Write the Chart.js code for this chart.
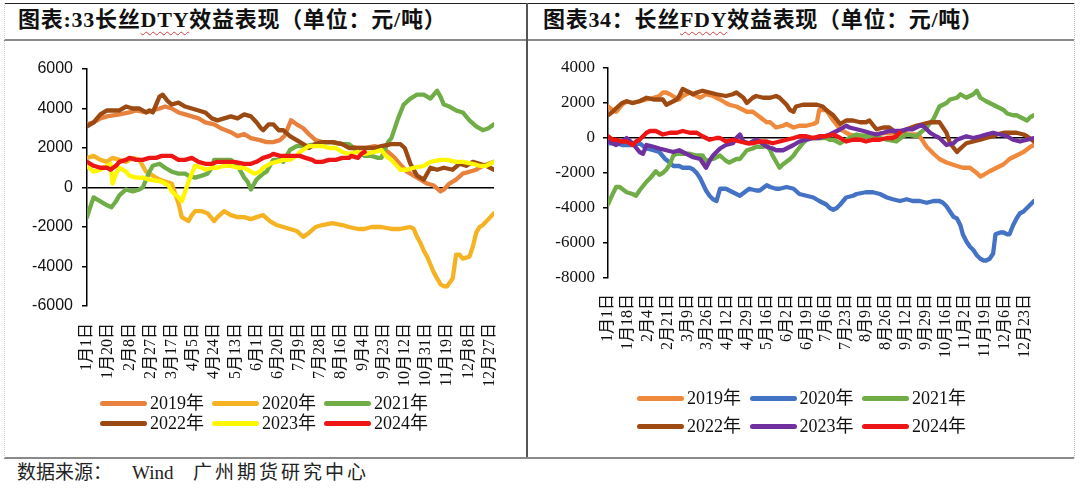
<!DOCTYPE html>
<html><head><meta charset="utf-8">
<script src="https://cdn.jsdelivr.net/npm/chart.js@4.4.1/dist/chart.umd.min.js"></script>
<style>
html,body{margin:0;padding:0;background:#fff;}
body{width:1080px;height:493px;position:relative;overflow:hidden;font-family:"Liberation Serif","Noto Sans CJK SC",serif;color:#111;}
.ln{position:absolute;}
.title{position:absolute;top:7px;font-size:22px;font-weight:bold;white-space:nowrap;line-height:26px;letter-spacing:0.75px;}
.wavy{text-decoration:underline wavy #d04040;text-decoration-thickness:1px;text-underline-offset:4px;}
.src{position:absolute;top:462px;font-size:19px;white-space:nowrap;line-height:22px;color:#222;}
canvas{position:absolute;}
.leg{position:absolute;font-size:18px;white-space:nowrap;line-height:20px;}
.leg .it{position:absolute;display:flex;align-items:center;}
.leg .sw{display:inline-block;width:47px;height:5px;border-radius:3px;margin-right:3px;}
</style>
</head><body>
<div class="ln" style="left:4px;top:3px;width:1070px;height:1px;background:#222"></div>
<div class="ln" style="left:4px;top:39px;width:1070px;height:2px;background:#8a8a8a"></div>
<div class="ln" style="left:526px;top:3px;width:2px;height:456px;background:#555"></div>
<div class="ln" style="left:4px;top:457px;width:1070px;height:2px;background:#8a8a8a"></div>
<div class="ln" style="left:4px;top:3px;width:0;height:455px;border-left:1px dotted #ccc"></div>
<div class="ln" style="left:1074px;top:3px;width:0;height:455px;border-left:1px dotted #bbb"></div>

<div class="title" style="left:18px">图表:33长丝<span class="wavy">DTY</span>效益表现（单位：元/吨）</div>
<div class="title" style="left:543px;letter-spacing:0.7px">图表34：长丝<span class="wavy">FDY</span>效益表现（单位：元/吨）</div>

<canvas id="c1" width="522" height="400" style="left:4px;top:41px;width:522px;height:400px"></canvas>
<canvas id="c2" width="545" height="400" style="left:529px;top:41px;width:545px;height:400px"></canvas>
<div class="leg" id="leg1"></div>
<div class="leg" id="leg2"></div>
<div class="src" style="left:17px">数据来源：</div>
<div class="src" style="left:132px">Wind</div>
<div class="src" style="left:193px;letter-spacing:3px">广州期货研究中心</div>

<script>
// ---------- categories / tick labels ----------
const seriesNames = ['2019年','2020年','2021年','2022年','2023年','2024年'];
const dtyTickLabels = ['1月1日','1月20日','2月8日','2月27日','3月17日','4月5日','4月24日','5月13日','6月1日','6月20日','7月9日','7月28日','8月16日','9月4日','9月23日','10月12日','10月31日','11月19日','12月8日','12月27日'];
const fdyTickLabels = ['1月1日','1月18日','2月4日','2月21日','3月9日','3月26日','4月12日','4月29日','5月16日','6月2日','6月19日','7月6日','7月23日','8月9日','8月26日','9月12日','9月29日','10月16日','11月2日','11月19日','12月6日','12月23日'];
const dtyYTicks = [-6000,-4000,-2000,0,2000,4000,6000];
const fdyYTicks = [-8000,-6000,-4000,-2000,0,2000,4000];

// ---------- DTY series: [day of year, 元/吨] ----------
const dty2019 = [[0,3200],[6,3300],[12,3500],[18,3600],[29,3700],[38,3800],[44,3900],[53,3800],[59,3900],[65,4000],[70,4100],[76,4000],[82,3800],[88,3700],[94,3600],[100,3500],[106,3300],[114,3200],[120,3000],[129,2800],[135,2600],[141,2700],[147,2500],[155,2400],[161,2300],[167,2300],[173,2400],[177,2600],[180,3000],[183,3400],[188,3200],[194,3000],[199,2700],[205,2400],[211,2300],[220,2300],[229,2200],[235,2100],[243,2000],[249,2000],[258,2100],[264,2000],[270,1800],[276,1500],[282,1100],[287,800],[293,600],[299,400],[305,200],[311,100],[317,-200],[320,-100],[325,200],[331,400],[337,700],[343,800],[349,900],[355,1100],[360,1200],[365,1300]];
const dty2020 = [[0,1500],[6,1600],[12,1400],[18,1300],[23,1500],[29,1400],[35,1300],[41,1500],[47,1400],[53,800],[59,600],[65,400],[70,300],[76,200],[79,-300],[82,-800],[85,-1500],[91,-1700],[94,-1400],[97,-1200],[103,-1200],[108,-1300],[114,-1700],[117,-1500],[123,-1200],[129,-1400],[135,-1500],[141,-1500],[147,-1600],[152,-1500],[158,-1400],[164,-1700],[170,-1900],[176,-2000],[182,-2100],[188,-2200],[194,-2500],[199,-2300],[205,-2000],[211,-1900],[220,-1800],[229,-1900],[235,-2000],[243,-2100],[249,-2100],[255,-2000],[264,-2000],[273,-2100],[281,-2100],[290,-2000],[293,-2100],[296,-2500],[299,-2800],[302,-3200],[305,-3500],[308,-3900],[311,-4300],[314,-4600],[317,-4900],[320,-5000],[323,-5000],[328,-4600],[331,-3400],[334,-3400],[337,-3600],[343,-3500],[346,-3000],[349,-2300],[352,-2000],[355,-1900],[360,-1600],[365,-1300]];
const dty2021 = [[0,-1500],[4,-800],[6,-500],[9,-600],[12,-700],[18,-900],[22,-1000],[26,-700],[29,-400],[35,-100],[41,-200],[47,-100],[50,0],[53,400],[56,800],[59,1100],[65,1200],[70,1000],[76,800],[82,700],[88,700],[91,600],[97,500],[103,600],[108,700],[112,1000],[114,1400],[120,1400],[129,1400],[135,1100],[141,500],[144,300],[147,-100],[152,400],[158,700],[161,800],[167,1400],[173,1400],[176,1300],[182,1900],[188,2100],[196,2100],[205,2200],[214,2300],[220,2300],[229,2200],[235,2200],[243,1800],[249,1600],[255,1600],[261,1500],[264,1500],[270,2300],[273,2500],[279,3500],[284,4200],[290,4500],[296,4700],[302,4700],[308,4500],[314,4900],[317,4600],[320,4200],[325,4100],[331,3900],[337,3800],[343,3400],[349,3100],[355,2900],[360,3000],[365,3200]];
const dty2022 = [[0,3100],[6,3300],[12,3700],[18,3900],[24,3900],[29,3900],[35,4100],[41,4000],[47,4000],[53,3800],[56,3900],[59,3800],[62,4200],[65,4600],[68,4700],[72,4400],[76,4200],[82,4300],[88,4100],[94,4000],[100,3900],[106,3800],[112,3500],[117,3400],[123,3500],[129,3600],[135,3500],[141,3700],[147,3600],[152,3300],[156,3000],[158,2900],[163,3200],[167,3200],[172,2900],[176,2900],[182,2600],[188,2400],[194,2200],[199,2000],[205,2200],[211,2300],[220,2300],[229,2200],[235,2000],[243,2000],[249,2000],[258,2000],[264,2100],[273,2200],[281,2200],[285,2000],[290,1200],[296,600],[299,500],[302,400],[308,1000],[314,900],[320,1000],[328,900],[334,1200],[340,1100],[346,1300],[352,1200],[358,1100],[365,900]];
const dty2023 = [[0,1100],[6,800],[12,900],[15,1000],[21,1200],[23,200],[26,700],[29,1000],[35,800],[38,600],[44,500],[50,500],[56,400],[62,350],[67,300],[73,100],[76,-200],[82,-500],[85,-700],[88,-200],[91,300],[97,1100],[103,1000],[106,900],[112,1000],[117,1000],[123,1100],[129,1100],[135,1000],[141,1000],[147,800],[150,700],[155,800],[158,1000],[164,1200],[170,1300],[176,1400],[182,1400],[188,1600],[191,1800],[199,2100],[205,2100],[211,2100],[217,2000],[223,2000],[229,1800],[235,1700],[243,1800],[249,1700],[258,1800],[264,1900],[268,1600],[273,1400],[281,900],[287,900],[293,1000],[302,1100],[308,1300],[317,1400],[323,1400],[331,1300],[337,1300],[346,1200],[352,1100],[358,1100],[365,1300]];
const dty2024 = [[0,1300],[6,1100],[12,1000],[18,1000],[21,900],[26,1100],[29,1300],[35,1400],[38,1500],[44,1400],[50,1400],[56,1500],[62,1500],[67,1600],[73,1600],[76,1600],[82,1400],[88,1400],[94,1500],[100,1300],[106,1200],[112,1200],[117,1300],[123,1300],[132,1300],[141,1200],[147,1200],[152,1300],[158,1500],[164,1600],[167,1700],[173,1600],[179,1600],[185,1600],[191,1600],[196,1500],[202,1400],[205,1300],[211,1300],[217,1400],[223,1400],[229,1500],[235,1500],[237,1600],[243,1500],[246,1700],[249,1800]];

// ---------- FDY series: [day of year, 元/吨] ----------
const fdy2019 = [[0,1800],[4,1600],[7,1500],[12,1900],[16,2100],[21,2000],[27,2100],[33,2200],[39,2300],[44,2400],[47,2600],[50,2600],[53,2500],[58,2300],[61,2200],[64,2400],[70,2600],[76,2400],[79,2300],[84,2500],[90,2400],[96,2200],[101,2000],[104,1900],[110,1800],[113,1700],[119,1500],[124,1500],[130,1200],[136,900],[139,900],[144,600],[150,700],[153,800],[159,600],[164,700],[170,700],[176,800],[179,900],[181,1600],[187,1600],[190,1300],[193,1000],[199,500],[204,300],[207,200],[216,100],[227,200],[239,300],[250,200],[256,200],[264,200],[267,100],[273,-500],[279,-900],[284,-1200],[290,-1400],[299,-1600],[304,-1700],[310,-1700],[316,-2000],[319,-2200],[322,-2100],[327,-1900],[333,-1700],[339,-1500],[344,-1200],[350,-1000],[356,-800],[362,-500],[365,-400]];
const fdy2020 = [[0,-300],[4,-300],[7,-300],[12,-400],[16,-400],[21,-400],[27,-300],[33,-600],[39,-700],[44,-800],[49,-1200],[53,-1400],[56,-1600],[61,-1600],[64,-1700],[70,-1700],[73,-1800],[76,-2000],[79,-2300],[84,-3000],[87,-3300],[90,-3500],[93,-3600],[96,-2900],[101,-2900],[104,-3000],[110,-3200],[113,-3300],[119,-3000],[121,-2900],[127,-3000],[130,-3000],[136,-2700],[139,-2800],[144,-2900],[147,-2900],[153,-2800],[159,-2900],[164,-3200],[170,-3300],[176,-3400],[181,-3600],[187,-3800],[190,-4000],[193,-4100],[196,-4000],[199,-3800],[204,-3400],[210,-3300],[213,-3200],[221,-3100],[227,-3100],[233,-3200],[239,-3400],[244,-3500],[250,-3600],[256,-3500],[261,-3600],[267,-3600],[273,-3700],[279,-3600],[284,-3600],[287,-3700],[290,-3900],[293,-4200],[296,-4500],[299,-4600],[302,-5000],[304,-5500],[307,-5900],[310,-6200],[313,-6400],[316,-6700],[319,-6900],[322,-7000],[324,-7000],[327,-6900],[330,-6600],[332,-5500],[336,-5400],[339,-5400],[342,-5500],[344,-5500],[347,-5000],[350,-4600],[353,-4300],[356,-4200],[359,-4000],[362,-3800],[365,-3600]];
const fdy2021 = [[0,-3800],[4,-3200],[7,-2800],[10,-2800],[16,-3100],[21,-3200],[24,-3300],[27,-3000],[33,-2500],[36,-2300],[41,-1900],[44,-2100],[47,-2000],[50,-1800],[53,-1500],[56,-1000],[59,-900],[64,-900],[70,-900],[76,-1000],[81,-1000],[84,-1300],[90,-1200],[96,-1000],[101,-1300],[104,-1400],[110,-1200],[113,-1200],[119,-700],[124,-600],[127,-500],[133,-500],[136,-400],[139,-700],[141,-1000],[147,-1700],[150,-1500],[156,-1200],[159,-1000],[161,-800],[167,-300],[170,-100],[176,0],[181,0],[187,0],[190,-100],[193,-100],[199,-300],[204,-100],[213,200],[221,100],[227,100],[233,0],[239,-100],[247,-200],[253,100],[256,200],[264,100],[273,600],[279,1100],[284,1800],[290,2000],[293,2200],[299,2300],[302,2500],[307,2300],[313,2500],[316,2700],[319,2300],[324,2100],[327,2000],[333,1800],[339,1600],[342,1400],[347,1300],[350,1300],[356,1100],[359,1000],[362,1200],[365,1300]];
const fdy2022 = [[0,1300],[4,1500],[7,1700],[12,2000],[16,2100],[21,2000],[27,2100],[33,2300],[39,2200],[47,2200],[50,1900],[53,2000],[59,2200],[61,2400],[64,2800],[67,2700],[73,2500],[76,2600],[81,2700],[87,2600],[93,2500],[101,2400],[107,2500],[110,2600],[116,2300],[119,2000],[124,2300],[127,2400],[133,2300],[139,2300],[144,2400],[147,2300],[153,1900],[156,1600],[159,1500],[161,1800],[167,1900],[173,1900],[179,1900],[184,1800],[187,1600],[193,1300],[199,800],[204,1000],[210,1000],[216,900],[221,900],[224,1000],[230,500],[236,600],[241,600],[247,300],[253,400],[256,500],[264,700],[270,800],[276,900],[281,900],[284,900],[290,300],[293,-300],[299,-800],[302,-600],[307,-300],[313,-200],[319,-100],[324,0],[330,100],[333,200],[339,300],[344,300],[350,300],[356,200],[359,100],[365,-200]];
const fdy2023 = [[0,-200],[4,-300],[7,-400],[12,-200],[16,0],[21,-300],[27,-800],[30,-900],[33,-400],[39,-500],[44,-600],[50,-700],[56,-800],[61,-700],[67,-900],[73,-1100],[79,-1200],[81,-1400],[84,-1700],[87,-1300],[90,-1000],[96,-600],[101,-400],[107,-300],[110,0],[113,200],[116,-200],[121,-300],[127,-100],[130,-200],[136,-500],[141,-600],[144,-700],[150,-700],[153,-600],[159,-400],[164,-200],[170,-100],[176,0],[181,0],[190,200],[196,400],[199,500],[204,700],[207,600],[213,500],[219,400],[224,300],[230,200],[236,300],[241,400],[250,400],[256,500],[261,500],[267,700],[270,700],[276,300],[281,100],[284,0],[287,-200],[290,-400],[296,-300],[299,-100],[307,100],[313,0],[319,100],[324,200],[330,300],[336,200],[342,100],[347,-100],[353,-200],[359,-100],[365,0]];
const fdy2024 = [[0,100],[4,-100],[7,-100],[12,-200],[16,-200],[21,-400],[24,-200],[27,-100],[33,300],[36,400],[41,400],[47,200],[53,300],[59,300],[64,400],[70,300],[76,300],[81,100],[87,-100],[93,0],[96,0],[101,-200],[107,-100],[113,-200],[119,-300],[124,-300],[130,-200],[136,-200],[141,-300],[147,-200],[153,-100],[159,0],[164,100],[170,100],[176,0],[181,100],[187,100],[193,200],[199,0],[204,-200],[210,-100],[216,-100],[221,-200],[227,-100],[233,-100],[239,0],[244,0],[247,100],[250,300]];

const dtyColors = ['#E8803E','#F5B323','#70AD47','#9C4A13','#FFF600','#EE1515'];
const fdyColors = ['#EF8A3D','#4472C4','#70AD47','#9E4A12','#7030A0','#EE1515'];

// ---------- helpers ----------
function dayOfYear(label){ // leap-year calendar (2024)
  const m = label.match(/(\d+)月(\d+)日/);
  return Math.round((Date.UTC(2024, +m[1]-1, +m[2]) - Date.UTC(2024,0,1))/86400000);
}
const serif = "'Liberation Serif','Noto Sans CJK SC',serif";

function makeChart(id, seriesList, colors, tickLabels, yTicks, geo, yFont){
  const tickDays = tickLabels.map(dayOfYear);
  const n = seriesList.length;
  const datasets = seriesList.map((d,i)=>({
    label: seriesNames[i], data: d, borderColor: colors[i], backgroundColor: colors[i],
    borderWidth: 4.3, pointRadius: 0, tension: 0, fill:false, order: n - i,
    borderJoinStyle:'round', borderCapStyle:'round'
  }));
  return new Chart(document.getElementById(id), {
    type:'line',
    data:{datasets},
    options:{
      responsive:false, animation:false, devicePixelRatio:1,
      layout:{padding:{top:geo.top, right:geo.right, left:0, bottom:0}},
      plugins:{legend:{display:false}, tooltip:{enabled:false}},
      scales:{
        x:{type:'linear', min:0, max:365,
          grid:{display:false, drawTicks:false}, border:{display:false},
          afterBuildTicks: s => { s.ticks = tickDays.map(v=>({value:v})); },
          afterFit: s => { s.height = geo.xh; },
          ticks:{autoSkip:false, minRotation:90, maxRotation:90, padding:geo.xpad, color:'#111',
            font:{family:serif, size:16},
            callback: v => { const k = tickDays.indexOf(v); return k>=0 ? tickLabels[k] : ''; }}
        },
        y:{min:yTicks[0], max:yTicks[yTicks.length-1],
          afterBuildTicks: s => { s.ticks = yTicks.map(v=>({value:v})); },
          afterFit: s => { s.width = geo.yw; },
          border:{display:true, color:'#000', width:1.5},
          grid:{color: c => (c.tick && c.tick.value===0) ? '#000' : 'rgba(0,0,0,0)', lineWidth:1.5,
                tickColor:'#000', tickLength:5, drawTicks:true},
          ticks:{padding:geo.ypad, color:'#111', font:yFont, callback: v => String(v)}
        }
      }
    }
  });
}

makeChart('c1', [dty2019,dty2020,dty2021,dty2022,dty2023,dty2024], dtyColors, dtyTickLabels, dtyYTicks,
  {top:28, right:24, xh:135, yw:83, xpad:17, ypad:9}, {family:"'Liberation Sans',Arial,sans-serif", size:16});
makeChart('c2', [fdy2019,fdy2020,fdy2021,fdy2022,fdy2023,fdy2024], fdyColors, fdyTickLabels, fdyYTicks,
  {top:27, right:40, xh:163, yw:79, xpad:16, ypad:8}, {family:serif, size:17});

// ---------- legends ----------
function legend(id, colors, x0, colStep, rowYs){
  const el = document.getElementById(id);
  seriesNames.forEach((nm,i)=>{
    const it = document.createElement('div');
    it.className='it';
    it.style.left = (x0 + (i%3)*colStep) + 'px';
    it.style.top = (rowYs[Math.floor(i/3)] - 10) + 'px';
    it.innerHTML = '<span class="sw" style="background:'+colors[i]+'"></span><span>'+nm+'</span>';
    el.appendChild(it);
  });
}
legend('leg1', dtyColors, 100, 112, [403,423]);
legend('leg2', fdyColors, 637, 112.5, [398,426]);
</script>
</body></html>
